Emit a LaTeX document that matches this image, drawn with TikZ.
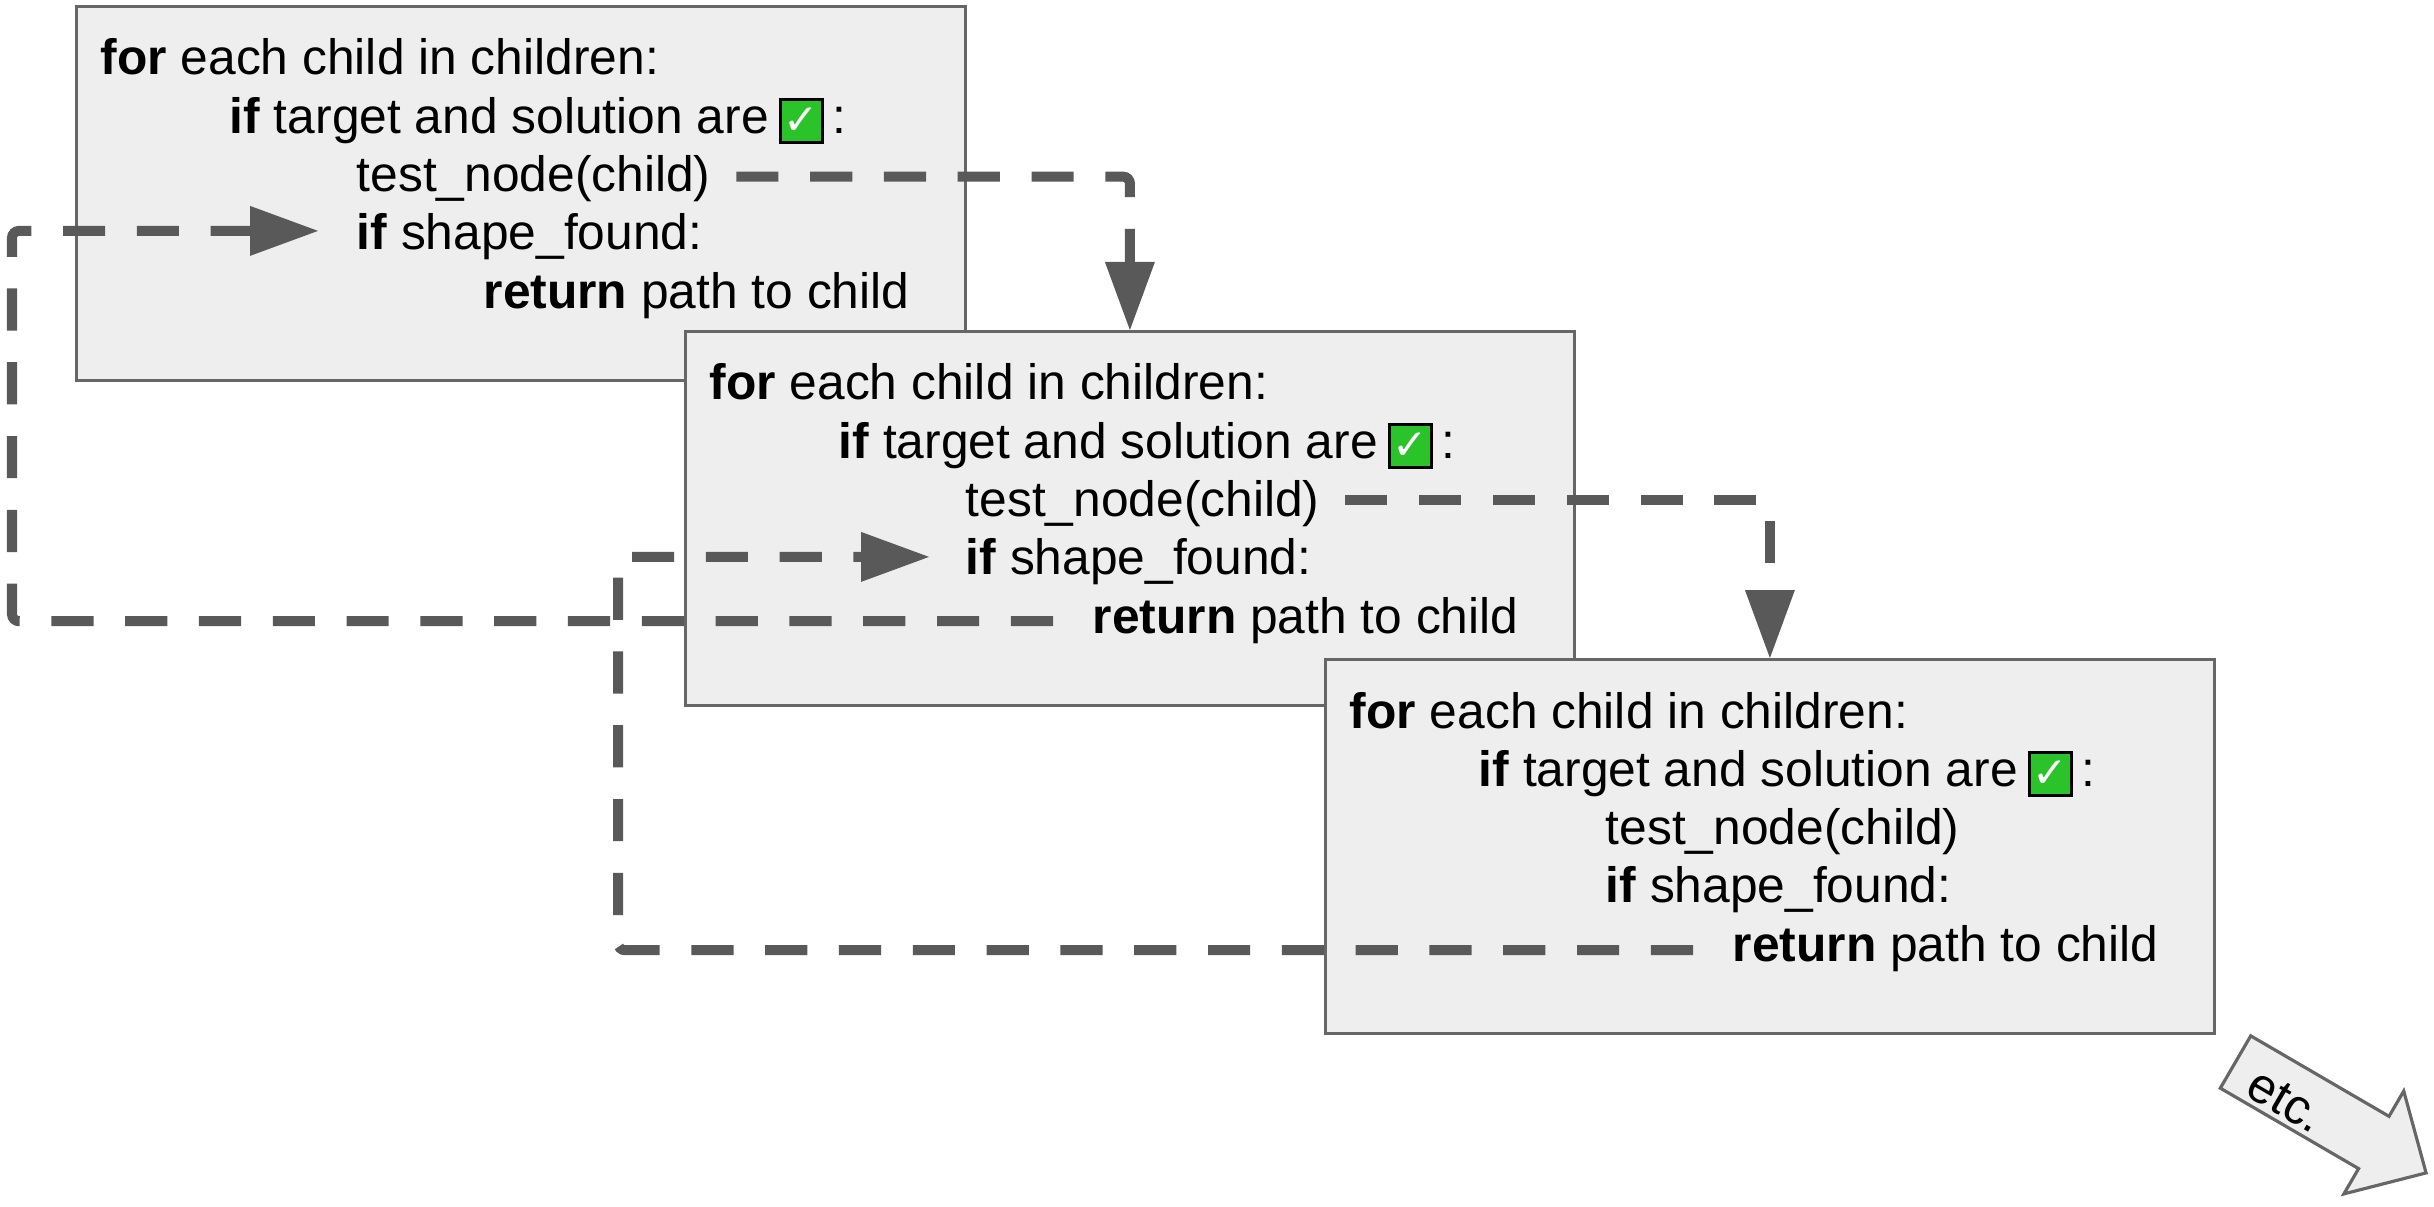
\documentclass[tikz,border=0pt]{standalone}
\usepackage{fontspec}
\setmainfont{Liberation Sans}
\newfontfamily\symfont{DejaVu Sans}
\usepackage{tikz}
\usetikzlibrary{arrows.meta}
\definecolor{boxfill}{HTML}{EEEEEE}
\definecolor{boxline}{HTML}{666666}
\definecolor{flowgray}{HTML}{595959}
\definecolor{okgreen}{HTML}{2AC32A}
\newcommand{\okbox}{\raisebox{-0.075cm}{\setlength{\fboxsep}{0pt}\setlength{\fboxrule}{0.8pt}%
  \fcolorbox{black}{okgreen}{\makebox[0.395cm][c]{\rule{0pt}{0.395cm}\raisebox{0.06cm}{\textcolor{white}{\symfont\fontsize{12pt}{12pt}\selectfont ✓}}}}}}

\begin{document}
\begin{tikzpicture}[codebox/.style={rectangle,draw=boxline,fill=boxfill,line width=0.8pt,
  anchor=north west,minimum width=8.89cm,minimum height=3.74cm},
  codeline/.style={anchor=base west,inner sep=0pt,text height=0.3cm,text depth=0cm,
  font=\fontsize{14.15pt}{16pt}\selectfont},
  flow/.style={draw=flowgray,line width=2.85pt,dash pattern=on 12pt off 9pt,rounded corners=2pt,
  -{Triangle[length=0.68cm,width=0.5cm,line width=0pt]}}]
\useasboundingbox (0,0) rectangle (24.34,-12.07);

% first box
\node [codebox] (box1) at (0.75,-0.05) {};
\node [codeline] (for1) at ([xshift=0.25cm,yshift=-0.70cm]box1.north west) {\textbf{for} each child in children:};
\node [codeline] (ok1) at ([xshift=1.54cm,yshift=-1.283cm]box1.north west) {\textbf{if} target and solution are\hspace{0.1cm}\okbox\hspace{0.08cm}:};
\node [codeline] (tn1) at ([xshift=2.81cm,yshift=-1.866cm]box1.north west) {test\_node(child)};
\node [codeline] (if1) at ([xshift=2.81cm,yshift=-2.449cm]box1.north west) {\textbf{if} shape\_found:};
\node [codeline] (ret1) at ([xshift=4.08cm,yshift=-3.032cm]box1.north west) {\textbf{return} path to child};

% second box
\node [codebox] (box2) at (6.84,-3.30) {};
\node [codeline] (for2) at ([xshift=0.25cm,yshift=-0.70cm]box2.north west) {\textbf{for} each child in children:};
\node [codeline] (ok2) at ([xshift=1.54cm,yshift=-1.283cm]box2.north west) {\textbf{if} target and solution are\hspace{0.1cm}\okbox\hspace{0.08cm}:};
\node [codeline] (tn2) at ([xshift=2.81cm,yshift=-1.866cm]box2.north west) {test\_node(child)};
\node [codeline] (if2) at ([xshift=2.81cm,yshift=-2.449cm]box2.north west) {\textbf{if} shape\_found:};
\node [codeline] (ret2) at ([xshift=4.08cm,yshift=-3.032cm]box2.north west) {\textbf{return} path to child};

% third box
\node [codebox] (box3) at (13.24,-6.58) {};
\node [codeline] (for3) at ([xshift=0.25cm,yshift=-0.70cm]box3.north west) {\textbf{for} each child in children:};
\node [codeline] (ok3) at ([xshift=1.54cm,yshift=-1.283cm]box3.north west) {\textbf{if} target and solution are\hspace{0.1cm}\okbox\hspace{0.08cm}:};
\node [codeline] (tn3) at ([xshift=2.81cm,yshift=-1.866cm]box3.north west) {test\_node(child)};
\node [codeline] (if3) at ([xshift=2.81cm,yshift=-2.449cm]box3.north west) {\textbf{if} shape\_found:};
\node [codeline] (ret3) at ([xshift=4.08cm,yshift=-3.032cm]box3.north west) {\textbf{return} path to child};

% calls going down
\draw[flow] ([xshift=0.25cm]tn1.east) -| (box2.north);
\draw[flow] ([xshift=0.25cm,yshift=0.02cm]tn2.east) -| (box3.north);

% returns going back up
\coordinate (lane1) at ([xshift=-0.63cm]box1.south west);
\coordinate (lane2) at ([xshift=-0.66cm]box2.south west);
\draw[flow] ([xshift=-0.39cm,yshift=-0.03cm]ret2.west) -| (lane1) |- ([xshift=-0.38cm,yshift=0.04cm]if1.west);
\draw[flow] ([xshift=-0.39cm,yshift=-0.04cm]ret3.west) -| (lane2) |- ([xshift=-0.36cm,yshift=0.03cm]if2.west);

% etc. arrow
\begin{scope}[shift={(22.355,-10.62)},rotate=-30.2]
\draw[draw=boxline,fill=boxfill,line width=0.9pt] (0,0.3025) -- (1.6,0.3025) -- (1.6,0.595)
  -- (2.205,0) -- (1.6,-0.595) -- (1.6,-0.3025) -- (0,-0.3025) -- cycle;
\node [transform shape,font=\fontsize{14.15pt}{16pt}\selectfont] (etc) at (0.63,-0.08) {etc.};
\end{scope}
\end{tikzpicture}
\end{document}
